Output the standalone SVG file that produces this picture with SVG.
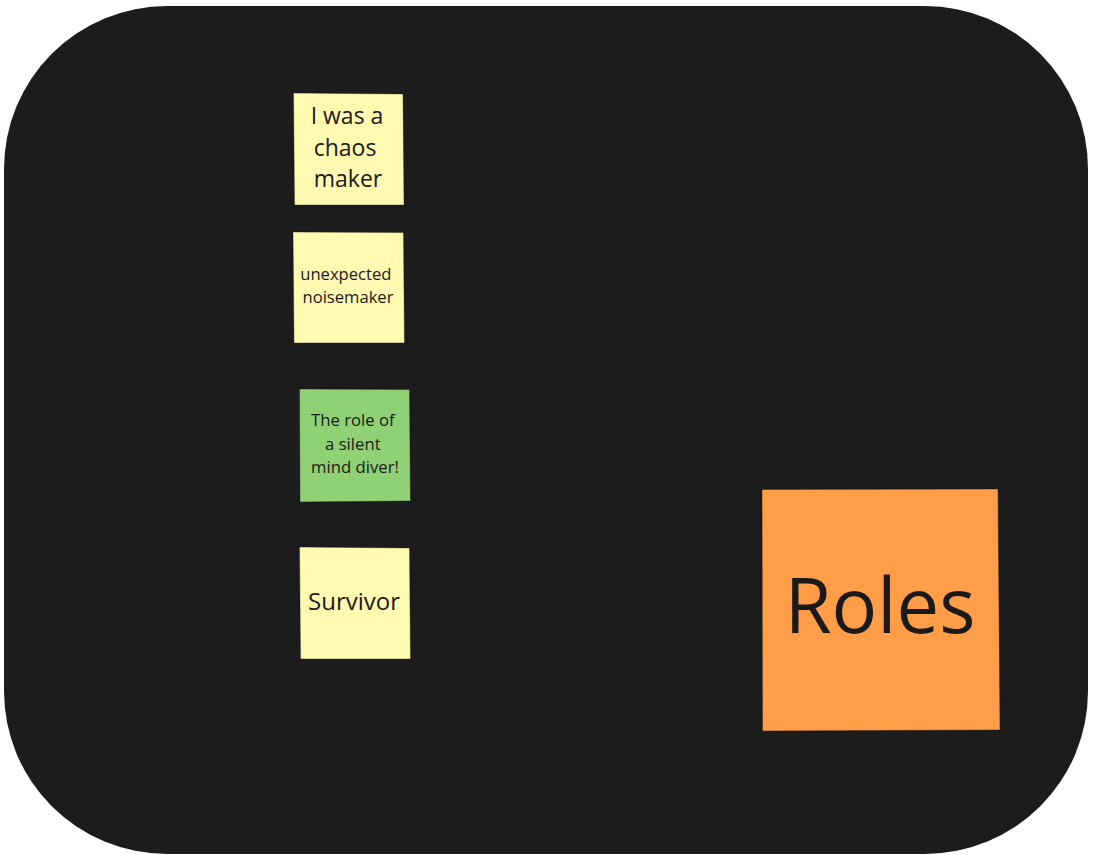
<svg xmlns="http://www.w3.org/2000/svg" width="1093" height="855" viewBox="0 0 1093 855">
  <style>
    .frame { fill: #1c1c1c; }
    .note { stroke: rgba(0,0,0,0.35); stroke-width: 1; }
    .yellow { fill: #fff9b1; }
    .green { fill: #8fd174; }
    .orange { fill: #ff9d48; }
    .label { font-family: "Open Sans", "Noto Sans", "Liberation Sans", sans-serif; fill: #1a1a1a; text-anchor: middle; }
  </style>
  <rect width="1093" height="855" fill="#ffffff"/>
  <!-- board background -->
  <rect class="frame" x="4" y="6" width="1084" height="848" rx="163" ry="163"/>

  <g id="note-chaos">
    <polygon class="note yellow" points="293.5,93 403,94 404,205 294.5,205"/>
    <text class="label" font-size="23">
      <tspan x="350" y="124">I was a</tspan>
      <tspan x="348" y="156">chaos</tspan>
      <tspan x="348" y="187">maker</tspan>
    </text>
  </g>

  <g id="note-noisemaker">
    <polygon class="note yellow" points="293,232 403.5,232.5 404.5,343 294,343"/>
    <text class="label" font-size="16.6">
      <tspan x="348" y="280">unexpected</tspan>
      <tspan x="348" y="303">noisemaker</tspan>
    </text>
  </g>

  <g id="note-diver">
    <polygon class="note green" points="299.5,389 409.5,389.5 410.5,501 300,502"/>
    <text class="label" font-size="16.7">
      <tspan x="355" y="426">The role of</tspan>
      <tspan x="355" y="450">a silent</tspan>
      <tspan x="355" y="473">mind diver!</tspan>
    </text>
  </g>

  <g id="note-survivor">
    <polygon class="note yellow" points="299.5,547 409.5,548 410.5,659 300.5,659"/>
    <text class="label" font-size="24" x="354" y="610">Survivor</text>
  </g>

  <g id="note-roles">
    <polygon class="note orange" points="762,489.5 998,489 1000,730 762.5,731"/>
    <text class="label" font-size="76" x="880" y="633">Roles</text>
  </g>

  <g id="connectors"/>
</svg>
